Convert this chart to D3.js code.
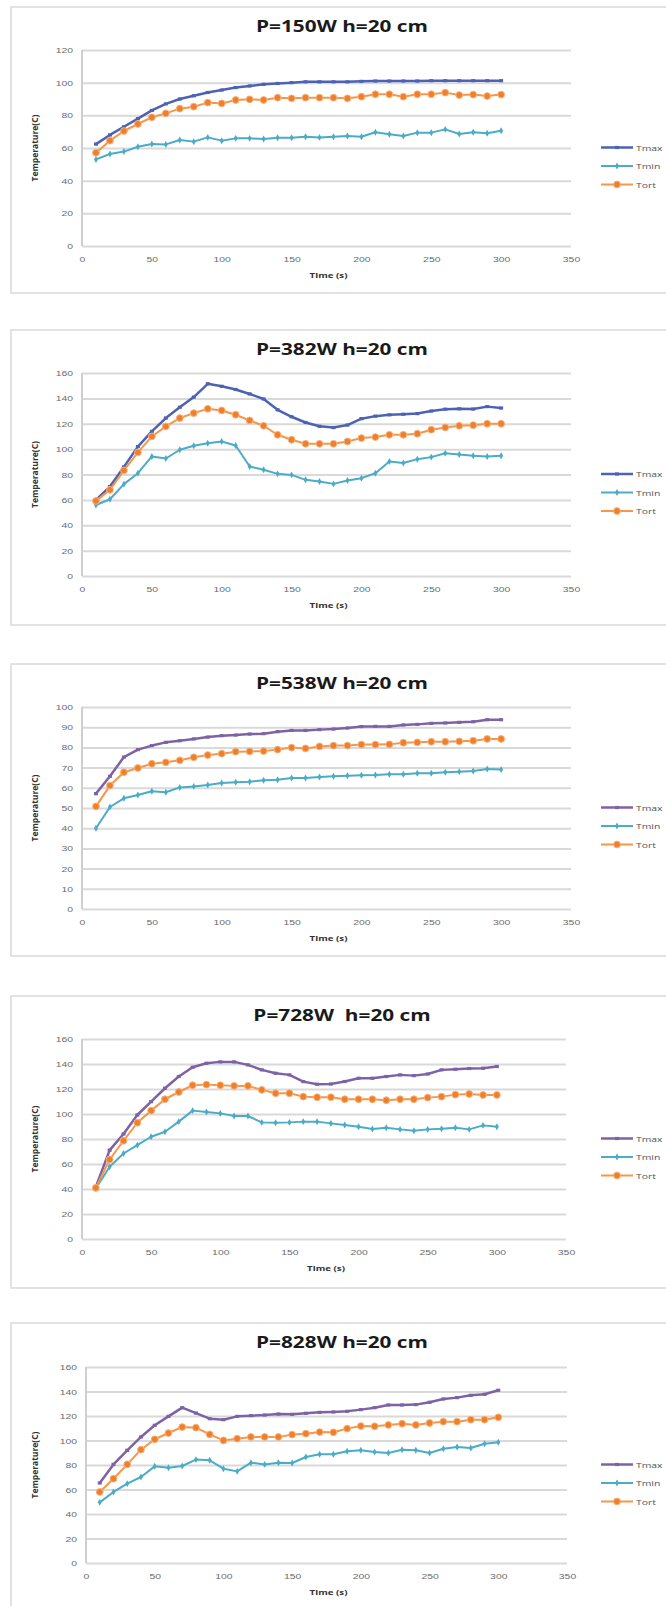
<!DOCTYPE html>
<html>
<head>
<meta charset="utf-8">
<script src="https://cdn.jsdelivr.net/npm/d3@7"></script>
<style>
  body { margin: 0; background: #fff; }
  svg { display: block; font-family: "Open Sans", sans-serif; }
</style>
</head>
<body>
<div id="charts"></div>
<script>
// time axis (s)
var times = [10, 20, 30, 40, 50, 60, 70, 80, 90, 100, 110, 120, 130, 140, 150,
             160, 170, 180, 190, 200, 210, 220, 230, 240, 250, 260, 270, 280, 290, 300];

var titles = ['P=150W h=20 cm', 'P=382W h=20 cm', 'P=538W h=20 cm', 'P=728W  h=20 cm', 'P=828W h=20 cm'];
var seriesNames = ['Tmax', 'Tmin', 'Tort'];
var yMaxes = [120, 160, 100, 160, 160];
var ySteps = [20, 20, 10, 20, 20];
var xTicks = [0, 50, 100, 150, 200, 250, 300, 350];

// P=150W
var tmax150 = [62.4, 68, 73, 78, 83, 87, 90, 92, 94, 95.5, 97, 98, 99, 99.5, 100, 100.5, 100.5, 100.5, 100.5, 100.8,
               101, 101, 101, 101, 101.2, 101.2, 101.2, 101.2, 101.2, 101.2];
var tmin150 = [53, 56.3, 57.8, 60.8, 62.4, 62.2, 64.9, 63.9, 66.5, 64.5, 65.9, 65.9, 65.5, 66.3, 66.3, 66.9, 66.5, 66.9, 67.3, 66.9,
               69.6, 68.4, 67.3, 69.4, 69.4, 71.4, 68.6, 69.6, 69, 70.6];
var tort150 = [57.1, 64.5, 70.4, 74.7, 78.8, 81.2, 84.1, 85.3, 87.8, 87.3, 89.4, 89.8, 89.4, 90.8, 90.4, 90.8, 90.8, 90.8, 90.4, 91.4,
               92.9, 92.9, 91.4, 92.9, 92.9, 93.9, 92.4, 92.7, 91.8, 92.7];

// P=382W
var tmax382 = [60, 70.5, 86, 102, 114, 124.5, 133, 141, 151.5, 149.5, 147, 143.5, 139.5, 131, 125.5, 121, 118, 117, 119, 124,
               126, 127, 127.5, 128, 130, 131.5, 131.8, 131.6, 133.5, 132.4];
var tmin382 = [56, 60.5, 72.4, 81, 94.2, 92.6, 99.5, 102.6, 104.7, 106, 102.9, 86.3, 83.7, 80.5, 79.7, 75.8, 74.5, 72.6, 75.3, 77.1,
               81, 90.3, 89, 92.1, 93.7, 96.8, 95.8, 94.7, 94.2, 94.7];
var tort382 = [59.2, 67.9, 83.2, 97.4, 110, 117.9, 124.5, 128.4, 131.8, 130.5, 127.1, 122.6, 118.4, 111.3, 107.4, 104.2, 104.2, 104.2, 106, 108.7,
               109.5, 111.3, 111.3, 112.1, 115.3, 117.1, 118.4, 118.9, 120, 120];

// P=538W
var tmax538 = [57.1, 65.7, 75.2, 78.9, 80.9, 82.5, 83.3, 84.2, 85.1, 85.8, 86.1, 86.6, 86.8, 87.8, 88.4, 88.4, 88.8, 89.1, 89.6, 90.3,
               90.4, 90.4, 91.1, 91.4, 91.9, 92.1, 92.4, 92.7, 93.7, 93.7];
var tmin538 = [40, 50.5, 54.8, 56.4, 58.3, 57.8, 60.2, 60.7, 61.4, 62.4, 62.7, 63, 63.7, 64, 64.9, 64.9, 65.3, 65.7, 66, 66.2,
               66.3, 66.7, 66.7, 67.2, 67.2, 67.7, 68, 68.3, 69.3, 69];
var tort538 = [50.8, 61.1, 67.7, 69.8, 71.9, 72.6, 73.6, 75.1, 76.2, 76.9, 77.9, 78, 78.2, 78.9, 79.9, 79.5, 80.5, 80.9, 80.9, 81.4,
               81.4, 81.5, 82.3, 82.5, 82.8, 82.8, 83, 83.3, 84.2, 84.2];

// P=728W
var tmax728 = [41.7, 71.1, 84, 99.2, 109.9, 120.6, 130, 137.4, 140.6, 141.7, 141.7, 139.3, 135.3, 132.6, 131.3, 125.9, 123.8, 124, 126, 128.6,
               128.6, 130, 131.3, 130.7, 132, 135.3, 135.8, 136.4, 136.6, 138];
var tmin728 = [40.4, 57.8, 68.4, 75.1, 81.8, 85.8, 93.9, 102.7, 101.6, 100.5, 98.4, 98.4, 93.3, 93, 93.3, 93.9, 93.9, 92.5, 91.2, 89.8,
               88, 89, 87.7, 86.6, 87.7, 88.2, 89, 87.7, 90.9, 89.8];
var tort728 = [40.9, 63.6, 78.6, 93, 102.7, 111.8, 117.6, 123, 123.5, 123, 122.5, 122.5, 119.3, 116.6, 116.6, 113.9, 113.4, 113.4, 111.8, 111.8,
               111.8, 111, 111.8, 111.8, 113.1, 113.9, 115.5, 116, 115.2, 115.2];

// P=828W
var tmax828 = [65.3, 80.5, 92, 102.9, 112.4, 119.7, 126.8, 122.4, 117.8, 117, 119.7, 120.3, 120.8, 121.6, 121.4, 122.2, 123, 123.3, 123.8, 125.2,
               126.8, 129, 129, 129.3, 131.2, 133.9, 135, 136.9, 137.7, 141];
var tmin828 = [49.5, 58, 64.8, 70.2, 78.9, 77.8, 79.2, 84.4, 83.8, 77, 74.8, 81.9, 80.5, 81.9, 81.6, 86.5, 88.7, 88.7, 91.2, 92,
               90.6, 89.8, 92.5, 92, 89.8, 93.3, 94.7, 93.9, 97.4, 98.5];
var tort828 = [58, 68.8, 80.5, 92.5, 101, 106.1, 111, 110.5, 105, 100.1, 101.5, 102.9, 102.9, 102.9, 104.8, 105.6, 106.9, 106.7, 109.7, 111.8,
               111.6, 112.7, 113.7, 112.7, 114.3, 115.4, 115.4, 117, 117, 118.9];

var panelSeries = [
  [tmax150, tmin150, tort150],
  [tmax382, tmin382, tort382],
  [tmax538, tmin538, tort538],
  [tmax728, tmin728, tort728],
  [tmax828, tmin828, tort828]
];

// layout
var W = 666, H = 1606;
var frameTops = [7, 330, 664, 996, 1323];
var frameBottoms = [293, 625, 956, 1288, 1640];
var plotTops = [50, 373, 707, 1039, 1367];
var plotBottoms = [246, 576, 909, 1239, 1563];
var plotLefts = [82, 82, 82, 82, 86];
var plotRights = [571, 571, 571, 566, 567];
var tmaxColors = ['#4d62b4', '#4d62b4', '#7e62a6', '#7e62a6', '#7e62a6'];
var TMIN = '#4bacc6', TORT = '#f79646', TORT_DOT = '#ee7f2d';
var SX = 1.3; // the original picture is stretched sideways

var svg = d3.select('#charts').append('svg')
  .attr('width', W)
  .attr('height', H);

svg.append('rect').attr('width', W).attr('height', H).style('fill', '#fff');

titles.forEach(function(title, i) {
  var g = svg.append('g').attr('class', 'panel');

  g.append('rect')
    .attr('x', 11)
    .attr('y', frameTops[i])
    .attr('width', 700)
    .attr('height', frameBottoms[i] - frameTops[i])
    .style('fill', 'none')
    .style('stroke', '#d9d9d9')
    .style('stroke-width', 1.5);

  var x = d3.scaleLinear().domain([0, 350]).range([plotLefts[i], plotRights[i]]);
  var y = d3.scaleLinear().domain([0, yMaxes[i]]).range([plotBottoms[i], plotTops[i]]);

  // grid + y labels
  var yAxis = g.append('g')
    .attr('transform', 'translate(' + plotLefts[i] + ',0)')
    .call(d3.axisLeft(y)
      .tickValues(d3.range(0, yMaxes[i] + 1, ySteps[i]))
      .tickSize(-(plotRights[i] - plotLefts[i]))
      .tickPadding(9));
  yAxis.select('.domain').remove();
  yAxis.selectAll('line')
    .style('stroke', '#d9d9d9')
    .style('stroke-width', 2);
  yAxis.selectAll('text')
    .attr('x', -9 / SX)
    .attr('transform', 'scale(' + SX + ',1)')
    .style('font-size', '8px')
    .style('fill', '#6b6b6b');

  // axis lines
  g.append('line')
    .attr('x1', plotLefts[i]).attr('x2', plotLefts[i])
    .attr('y1', plotTops[i]).attr('y2', plotBottoms[i])
    .style('stroke', '#cfcfcf').style('stroke-width', 2);

  var xAxis = g.append('g')
    .attr('transform', 'translate(0,' + plotBottoms[i] + ')')
    .call(d3.axisBottom(x).tickValues(xTicks).tickSize(0).tickPadding(10));
  xAxis.select('.domain').remove();
  xAxis.selectAll('text')
    .attr('transform', 'scale(' + SX + ',1)')
    .style('font-size', '8px')
    .style('fill', '#6b6b6b');

  // titles
  g.append('text')
    .attr('transform', 'translate(342,' + (frameTops[i] + 25) + ') scale(' + SX + ',1)')
    .attr('text-anchor', 'middle')
    .style('font-size', '16px')
    .style('font-weight', 'bold')
    .style('white-space', 'pre')
    .style('fill', '#1a1a1a')
    .text(title);

  g.append('text')
    .attr('transform', 'translate(' + ((plotLefts[i] + plotRights[i]) / 2 + 2) + ',' + (plotBottoms[i] + 32) + ') scale(' + SX + ',1)')
    .attr('text-anchor', 'middle')
    .style('font-size', '7.5px')
    .style('font-weight', 'bold')
    .style('fill', '#333')
    .text('Time (s)');

  g.append('text')
    .attr('transform', 'translate(38,' + ((plotTops[i] + plotBottoms[i]) / 2) + ') rotate(-90)')
    .attr('text-anchor', 'middle')
    .style('font-size', '8.5px')
    .style('font-weight', 'bold')
    .style('fill', '#333')
    .text('Temperature(C)');

  // series
  var series = panelSeries[i];
  var colors = [tmaxColors[i], TMIN, TORT];
  var widths = [2.5, 2, 2];

  var line = d3.line()
    .x(function(d) { return x(d[0]); })
    .y(function(d) { return y(d[1]); });

  series.forEach(function(vals, k) {
    var pts = times.map(function(t, j) { return [t, vals[j]]; });
    g.append('path')
      .datum(pts)
      .attr('d', line)
      .style('fill', 'none')
      .style('stroke', colors[k])
      .style('stroke-width', widths[k])
      .style('stroke-linejoin', 'round');

    var m = g.append('g').selectAll('.m').data(pts).enter();
    if (k === 0) {
      m.append('rect')
        .attr('x', function(d) { return x(d[0]) - 2; })
        .attr('y', function(d) { return y(d[1]) - 1.6; })
        .attr('width', 4).attr('height', 3.2)
        .style('fill', colors[k]);
    } else if (k === 1) {
      m.append('path')
        .attr('d', d3.symbol(d3.symbolDiamond, 14))
        .attr('transform', function(d) { return 'translate(' + x(d[0]) + ',' + y(d[1]) + ')'; })
        .style('fill', colors[k]);
    } else {
      m.append('circle')
        .attr('cx', function(d) { return x(d[0]); })
        .attr('cy', function(d) { return y(d[1]); })
        .attr('r', 3.4)
        .style('fill', TORT_DOT)
        .style('stroke', '#f9b27a')
        .style('stroke-width', 1);
    }
  });

  // legend
  var midY = (plotTops[i] + plotBottoms[i]) / 2 + 18;
  seriesNames.forEach(function(name, k) {
    var ly = midY + (k - 1) * 18.5;
    var lg = g.append('g');
    lg.append('line')
      .attr('x1', 601).attr('x2', 633)
      .attr('y1', ly).attr('y2', ly)
      .style('stroke', colors[k])
      .style('stroke-width', widths[k]);
    if (k === 0) {
      lg.append('rect').attr('x', 615).attr('y', ly - 1.6).attr('width', 4).attr('height', 3.2).style('fill', colors[k]);
    } else if (k === 1) {
      lg.append('path').attr('d', d3.symbol(d3.symbolDiamond, 14)).attr('transform', 'translate(617,' + ly + ')').style('fill', colors[k]);
    } else {
      lg.append('circle').attr('cx', 617).attr('cy', ly).attr('r', 3.4).style('fill', TORT_DOT).style('stroke', '#f9b27a');
    }
    lg.append('text')
      .attr('transform', 'translate(636,' + (ly + 3) + ') scale(' + SX + ',1)')
      .style('font-size', '8px')
      .style('fill', '#555')
      .text(name);
  });
});
</script>
</body>
</html>
